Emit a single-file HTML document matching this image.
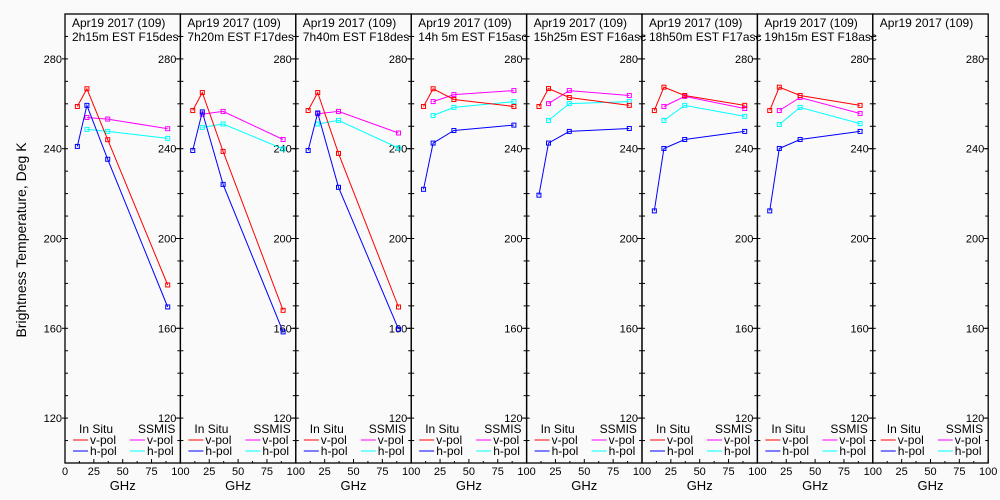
<!DOCTYPE html>
<html><head><meta charset="utf-8">
<style>
html,body{margin:0;padding:0;background:#fafafa;}
svg{display:block;font-family:"Liberation Sans","DejaVu Sans",sans-serif;}
</style></head>
<body>
<svg id="chart" width="1000" height="500" viewBox="0 0 1000 500">
<rect width="1000" height="500" fill="#fafafa"/>
<text x="26" y="240" font-size="14" text-anchor="middle" transform="rotate(-90 26 240)">Brightness Temperature, Deg K</text>
<g id="panels"></g>
</svg>
<script>
const titles = ["2h15m EST F15des","7h20m EST F17des","7h40m EST F18des","14h 5m EST F15asc","15h25m EST F16asc","18h50m EST F17asc","19h15m EST F18asc",""];
const dateLabel = "Apr19 2017 (109)";
const insituFreq = [10.7, 19, 37, 89];
const ssmisFreq = [19, 37, 89];
const insituV = [[258.8,266.7,244,179.3],[257,265,238.8,168],[257,265,237.9,169.5],[258.8,266.7,261.9,258.8],[258.8,266.8,262.8,259.3],[257,267.4,263.7,259.3],[257,267.4,263.7,259.3],null];
const insituH = [[241,259.3,235.3,169.5],[239.2,256.4,224.1,158.4],[239.2,255.9,222.8,159.6],[221.9,242.5,248.1,250.5],[219.3,242.5,247.7,249],[212.3,240.1,244.1,247.7],[212.3,240.1,244.1,247.7],null];
const ssmisV = [[253.9,253.2,248.9],[255.4,256.6,244.1],[255.6,256.6,247],[261,264.1,265.9],[260.1,265.9,263.7],[258.8,263.3,257.9],[257,262.8,255.7],null];
const ssmisH = [[248.6,247.7,244.6],[249.5,251,239.9],[251,252.6,240.3],[254.8,258.4,261],[252.6,260.1,261],[252.6,259.3,254.4],[250.8,258.4,251.2],null];
const yTickLabels = [120,160,200,240,280];
const xTickLabels = [0,25,50,75,100];

const NS="http://www.w3.org/2000/svg";
const root=document.getElementById('panels');
const TOP=14,BOT=463,LEFT0=65,PW=115.4;
function yS(v){return BOT-(v-100)/200*(BOT-TOP);}
function mk(tag,attrs,parent){const e=document.createElementNS(NS,tag);for(const k in attrs)e.setAttribute(k,attrs[k]);(parent||root).appendChild(e);return e;}

for(let p=0;p<8;p++){
  const x0=LEFT0+p*PW, x1=x0+PW;
  const xS=f=>x0+f/100*PW;
  const g=mk('g',{});
  
  
  const fr=mk('rect',{x:x0,y:TOP,width:PW,height:BOT-TOP,fill:'none',stroke:'#000','stroke-width':1.3},g);
  
  
  for(let v=110;v<300;v+=10){
    const y=yS(v);
    mk('line',{x1:x0,x2:x0+3,y1:y,y2:y,stroke:'#000'},g);
    mk('line',{x1:x1-3,x2:x1,y1:y,y2:y,stroke:'#000'},g);
  }
  yTickLabels.forEach(v=>{
    const y=yS(v);
    mk('line',{x1:x1-5,x2:x1,y1:y,y2:y,stroke:'#000'},g);
    const t=mk('text',{x:x1-4,y:y+4,'font-size':11,'text-anchor':'end'},g);
    t.textContent=v;
    
    
    if(p===0){
      mk('line',{x1:x0-3,x2:x0,y1:y,y2:y,stroke:'#000'},g);
      const t2=mk('text',{x:x0-3,y:y+4,'font-size':11,'text-anchor':'end'},g);
      t2.textContent=v;
      
      
    }
  });
  xTickLabels.forEach(v=>{
    if(v===0&&p>0)return;
    const x=xS(v);
    mk('line',{x1:x,x2:x,y1:BOT-4,y2:BOT,stroke:'#000'},g);
    const t=mk('text',{x:x,y:475,'font-size':11,'text-anchor':'middle'},g);
    t.textContent=v;
    
    
  });
  [12.5,37.5,62.5,87.5].forEach(v=>{const x=xS(v);mk('line',{x1:x,x2:x,y1:BOT-2,y2:BOT,stroke:'#000'},g);});
  const xl=mk('text',{x:x0+PW/2,y:490,'font-size':13,'text-anchor':'middle'},g);
  xl.textContent='GHz';
  
  
  const t1=mk('text',{x:x0+7,y:27,'font-size':12},g);
  t1.textContent=dateLabel;
  
  
  const t2=mk('text',{x:x0+7,y:41,'font-size':12},g);
  t2.textContent=titles[p];
  
  
  const lg=mk('g',{},g);
  
  
  const h1=mk('text',{x:x0+14,y:433,'font-size':12},lg);h1.textContent='In Situ';
  const h2=mk('text',{x:x0+73,y:433,'font-size':12},lg);h2.textContent='SSMIS';
  [['#f00','v-pol',0,444],['#00f','h-pol',0,455],['#f0f','v-pol',57,444],['#0ff','h-pol',57,455]].forEach(r=>{
    const ln=mk('line',{x1:x0+8+r[2],x2:x0+23+r[2],y1:r[3]-4,y2:r[3]-4,stroke:r[0]},lg);
    
    
    const tt=mk('text',{x:x0+25+r[2],y:r[3],'font-size':12},lg);
    tt.textContent=r[1];
    
    
  });
  const series=[[ssmisH[p],ssmisFreq,'#0ff','ssmis-h-pol'],[ssmisV[p],ssmisFreq,'#f0f','ssmis-v-pol'],[insituH[p],insituFreq,'#00f','insitu-h-pol'],[insituV[p],insituFreq,'#f00','insitu-v-pol']];
  series.forEach(s=>{
    if(!s[0])return;
    const pts=s[0].map((v,i)=>xS(s[1][i]).toFixed(1)+','+yS(v).toFixed(1)).join(' ');
    const pl=mk('polyline',{points:pts,fill:'none',stroke:s[2],'stroke-width':1},g);
    
    
    s[0].forEach((v,i)=>{
      const r=mk('rect',{x:xS(s[1][i])-2,y:yS(v)-2,width:4,height:4,fill:'none',stroke:s[2],'stroke-width':1},g);
      
      
    });
  });
}
</script>
</body></html>
